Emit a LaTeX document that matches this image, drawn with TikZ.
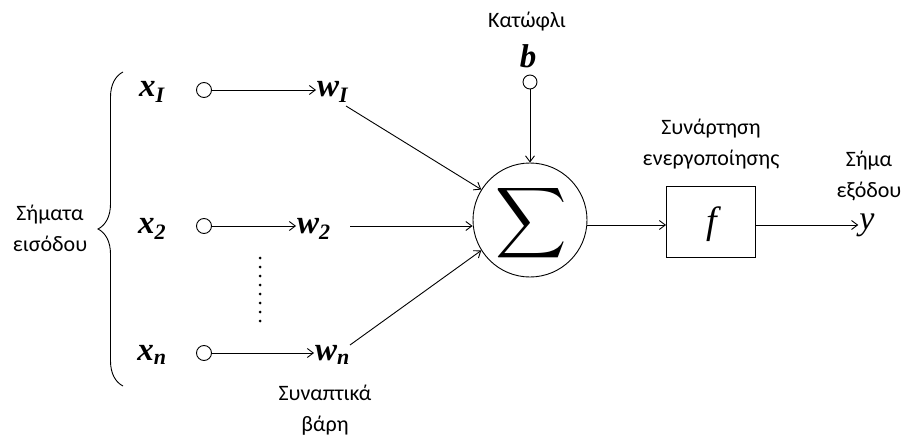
\documentclass[tikz,border=0pt]{standalone}
\usepackage{fontspec}
\usepackage{graphicx}
\setmainfont{Liberation Serif}
\newfontfamily\grk{Carlito}
\usetikzlibrary{arrows.meta,decorations.pathreplacing}
\newcommand{\subsz}{\fontsize{22}{22}\selectfont}
\begin{document}
\begin{tikzpicture}[x=1pt,y=-1pt,
  lbl/.style={font=\grk\fontsize{22}{31}\selectfont, align=center, inner sep=0pt},
  var/.style={font=\bfseries\itshape\fontsize{33}{35}\selectfont, inner sep=1pt},
  inp/.style={circle, draw, line width=0.9pt, minimum size=15pt, inner sep=0pt},
  conn/.style={line width=0.9pt, -{Straight Barb[length=6pt,width=9pt]}}
]
\useasboundingbox (0,0) rectangle (907,441);
% brace
\draw[line width=0.9pt, decorate, decoration={brace, amplitude=25pt}] (123,386) -- (123,72);
\node[lbl] (sin) at (50,228) {Σήματα\\εισόδου};
% inputs
\node[var] (x1) at (152,92) {x\textsubscript{\subsz I}};
\node[var] (x2) at (152,229) {x\textsubscript{\subsz 2}};
\node[var] (xn) at (152,355) {x\textsubscript{\subsz n}};
\node[inp] (c1) at (204,90) {};
\node[inp] (c2) at (204,226) {};
\node[inp] (cn) at (204,353) {};
\node[var, anchor=west] (w1) at (316,92) {w\textsubscript{\subsz I}};
\node[var, anchor=west] (w2) at (296,229) {w\textsubscript{\subsz 2}};
\node[var, anchor=west] (wn) at (314,355) {w\textsubscript{\subsz n}};
\draw[conn] (c1) -- (w1.west |- c1);
\draw[conn] (c2) -- (w2.west |- c2);
\draw[conn] (cn) -- (wn.west |- cn);
\draw[line width=3pt, dash pattern=on 0pt off 9pt, line cap=round] (260,258) -- (260,321);
% sum
\node[circle, draw, line width=0.9pt, minimum size=114pt, inner sep=0pt] (sum) at (530,220) {};
\node[inner sep=0pt] (sig) at (531,223) {\resizebox{!}{52pt}{$\displaystyle\sum$}};
\coordinate (w1e) at (346,106);
\coordinate (w2e) at (350,226);
\coordinate (wne) at (350,345);
\draw[conn] (w1e) -- (sum.148);
\draw[conn] (w2e) -- (sum.west |- w2e);
\draw[conn] (wne) -- (sum.212);
% bias
\node[lbl] (kat) at (527,22) {Κατώφλι};
\node[var] (b) at (528,56) {b};
\node[inp, minimum size=14pt] (cb) at (530,82) {};
\draw[conn] (cb) -- (sum);
% activation
\node[draw, line width=0.9pt, minimum width=89pt, minimum height=71pt] (fbox) at (711,222) {};
\node[font=\itshape\fontsize{38}{38}\selectfont] (f) at (712,224) {f};
\node[lbl] (act) at (711,144) {Συνάρτηση\\ενεργοποίησης};
\draw[conn] (sum.east |- 0,225) -- (fbox.west |- 0,225);
\node[font=\itshape\fontsize{34}{34}\selectfont, inner sep=1pt] (y) at (867,225) {y};
\draw[conn] (fbox.east |- 0,225) -- (y.west |- 0,225);
\node[lbl] (out) at (869,176) {Σήμα\\εξόδου};
\node[lbl] (syn) at (325,410) {Συναπτικά\\βάρη};
\end{tikzpicture}
\end{document}
